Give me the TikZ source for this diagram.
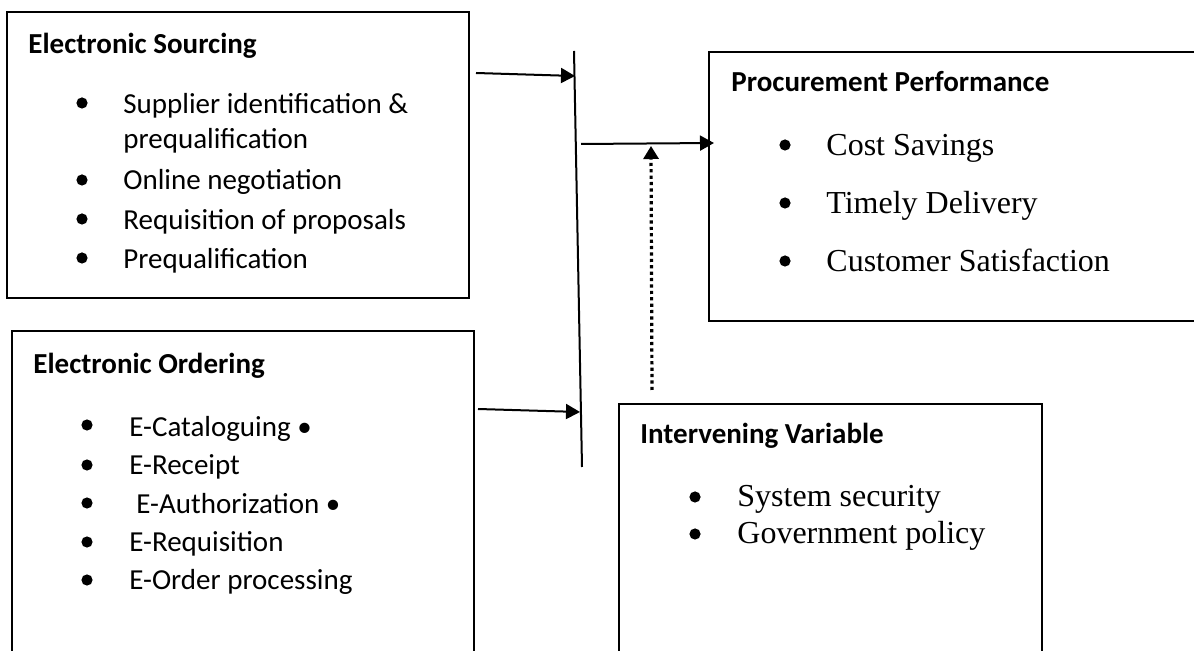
\documentclass[tikz,border=0pt]{standalone}
\usepackage{fontspec}
\setmainfont{Carlito}
\newfontfamily\tnr{Liberation Serif}
\usetikzlibrary{arrows.meta,fit}
\begin{document}
\begin{tikzpicture}[x=0.5pt,y=-0.5pt,
  box/.style={draw, line width=1pt, inner sep=0pt},
  conn/.style={line width=1pt, -{Triangle[length=7pt,width=7.5pt]}},
  bar/.style={line width=1pt},
  dotconn/.style={line width=1.6pt, dash pattern=on 1.6pt off 1.6pt, -{Triangle[length=6.5pt,width=7.5pt]}},
  ttl/.style={anchor=base west, inner sep=0pt, font=\fontsize{14.5}{17}\selectfont\bfseries},
  cal/.style={anchor=base west, inner sep=0pt, font=\fontsize{14.5}{17}\selectfont},
  tim/.style={anchor=base west, inner sep=0pt, font=\tnr\fontsize{16}{19}\selectfont},
  bul/.style={circle, fill=black, draw=none, inner sep=0pt, minimum size=5.6pt},
]
\useasboundingbox (0,0) rectangle (1194,651);
\clip (0,0) rectangle (1194,651);

% boxes
\node[box, fit={(7,12) (469,298)}] (src) {};
\node[box, fit={(12,331) (474,700)}] (ord) {};
\node[box, fit={(709,52) (1230,321)}] (perf) {};
\node[box, fit={(619,404) (1042,700)}] (iv) {};

% Electronic Sourcing
\node[ttl] (srct) at (28,54) {Electronic Sourcing};
\node[bul] (sb1) at (82,103) {};
\node[bul] (sb2) at (82,180) {};
\node[bul] (sb3) at (82,219) {};
\node[bul] (sb4) at (82,258) {};
\node[cal] (s1) at (123,114) {Supplier identification \&};
\node[cal] (s1b) at (123,149) {prequalification};
\node[cal] (s2) at (123,190) {Online negotiation};
\node[cal] (s3) at (123,230) {Requisition of proposals};
\node[cal] (s4) at (123,269) {Prequalification};

% Electronic Ordering
\node[ttl] (ordt) at (33,374) {Electronic Ordering};
\node[bul] (ob1) at (87,425) {};
\node[bul] (ob2) at (87,465) {};
\node[bul] (ob3) at (87,503) {};
\node[bul] (ob4) at (87,542) {};
\node[bul] (ob5) at (87,580) {};
\node[cal] (o1) at (129,437) {E-Cataloguing •};
\node[cal] (o2) at (129,475) {E-Receipt};
\node[cal] (o3) at (136,514) {E-Authorization •};
\node[cal] (o4) at (129,552) {E-Requisition};
\node[cal] (o5) at (129,590) {E-Order processing};

% Procurement Performance
\node[ttl] (perft) at (731,92) {Procurement Performance};
\node[bul] (pb1) at (785,145) {};
\node[bul] (pb2) at (785,203) {};
\node[bul] (pb3) at (785,261) {};
\node[tim] (p1) at (826,156) {Cost Savings};
\node[tim] (p2) at (826,214) {Timely Delivery};
\node[tim] (p3) at (826,272) {Customer Satisfaction};

% Intervening Variable
\node[ttl] (ivt) at (640,444) {Intervening Variable};
\node[bul] (ib1) at (695,497) {};
\node[bul] (ib2) at (695,534) {};
\node[tim] (i1) at (737,507) {System security};
\node[tim] (i2) at (737,544) {Government policy};

% connectors
\coordinate (vt) at (574,51);
\coordinate (vb) at (582,467);
\coordinate (a1s) at (476,73);
\coordinate (a1e) at (575,76);
\coordinate (a2s) at (478,409);
\coordinate (a2e) at (580,412);
\coordinate (a3s) at (581,144);
\coordinate (a3e) at (714,143);
\coordinate (dts) at (652,390);
\coordinate (dte) at (651,146);

\draw[bar] (vt) -- (vb);
\draw[conn] (a1s) -- (a1e);
\draw[conn] (a2s) -- (a2e);
\draw[conn] (a3s) -- (a3e);
\draw[dotconn] (dts) -- (dte);
\end{tikzpicture}
\end{document}
